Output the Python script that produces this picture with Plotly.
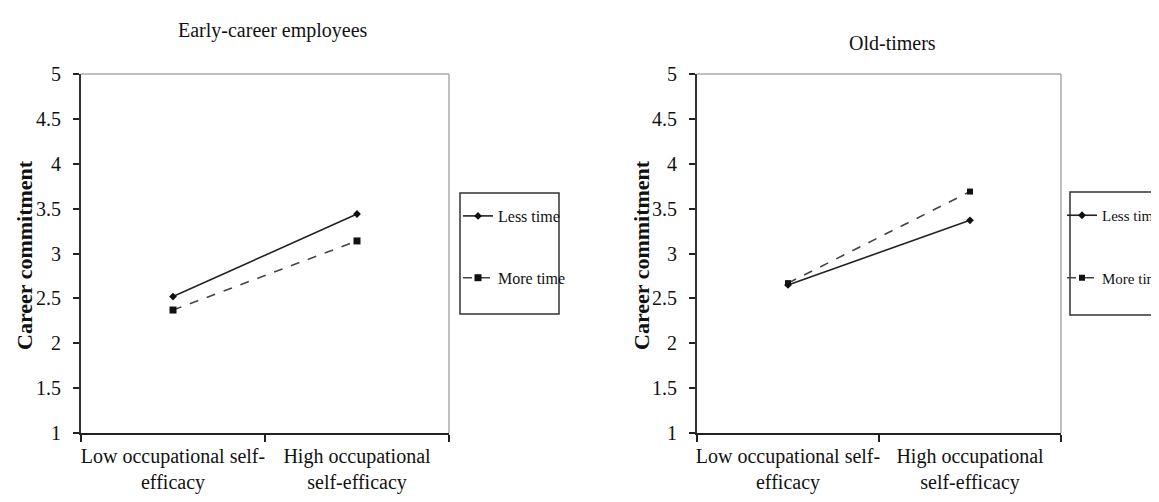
import plotly.graph_objects as go

W, H = 1159, 502

categories = ["Low occupational self-<br>efficacy", "High occupational<br>self-efficacy"]
early_less = [2.52, 3.44]
early_more = [2.37, 3.14]
old_less = [2.65, 3.37]
old_more = [2.67, 3.69]
y_ticks = [1, 1.5, 2, 2.5, 3, 3.5, 4, 4.5, 5]
y_ticktext = ["1", "1.5", "2", "2.5", "3", "3.5", "4", "4.5", "5"]
series_names = ["Less time", "More time"]
panel_titles = ["Early-career employees", "Old-timers"]
y_title = "Career commitment"

FONT = "Liberation Serif, Times New Roman, serif"

def px(x):
    return x / W

def py(y):
    return 1 - y / H

fig = go.Figure()

# left panel
fig.add_trace(go.Scatter(x=categories, y=early_less, name=series_names[0], mode="lines+markers",
                         line=dict(color="#222", width=1.6), marker=dict(symbol="diamond", size=6, color="#111"),
                         xaxis="x", yaxis="y", legend="legend", legendgroup="a"))
fig.add_trace(go.Scatter(x=categories, y=early_more, name=series_names[1], mode="lines+markers",
                         line=dict(color="#444", width=1.6, dash="dash"), marker=dict(symbol="square", size=7, color="#111"),
                         xaxis="x", yaxis="y", legend="legend", legendgroup="b"))
# right panel
fig.add_trace(go.Scatter(x=categories, y=old_less, name=series_names[0], mode="lines+markers",
                         line=dict(color="#222", width=1.6), marker=dict(symbol="diamond", size=6, color="#111"),
                         xaxis="x2", yaxis="y2", legend="legend2", legendgroup="c"))
fig.add_trace(go.Scatter(x=categories, y=old_more, name=series_names[1], mode="lines+markers",
                         line=dict(color="#444", width=1.6, dash="dash"), marker=dict(symbol="square", size=6, color="#111"),
                         xaxis="x2", yaxis="y2", legend="legend2", legendgroup="d"))

ydom = [py(425), py(66)]
xax = dict(type="category", range=[-0.5, 1.5], tickson="boundaries", ticks="outside", ticklen=7,
           tickcolor="#222", tickwidth=1.5, showline=True, linecolor="#222", linewidth=1.8,
           showgrid=False, zeroline=False, tickfont=dict(family=FONT, size=20, color="#111"),
           tickangle=0, ticklabelstandoff=4, automargin=False, fixedrange=True)
yax = dict(range=[1, 5], tickvals=y_ticks, ticktext=y_ticktext, ticks="outside", ticklen=6,
           tickcolor="#222", tickwidth=1.5, showline=True, linecolor="#333", linewidth=1.8,
           showgrid=False, zeroline=False, tickfont=dict(family=FONT, size=20, color="#111"),
           ticklabelstandoff=8, automargin=False, fixedrange=True)

fig.update_layout(
    width=W, height=H,
    margin=dict(l=0, r=0, t=0, b=0, autoexpand=False),
    paper_bgcolor="white", plot_bgcolor="white",
    xaxis=dict(xax, domain=[px(73), px(441)], anchor="y"),
    yaxis=dict(yax, domain=ydom, anchor="x"),
    xaxis2=dict(xax, domain=[px(689), px(1053)], anchor="y2"),
    yaxis2=dict(yax, domain=ydom, anchor="x2"),
    legend=dict(x=px(450), y=py(191), xanchor="left", yanchor="top", bgcolor="rgba(0,0,0,0)",
                borderwidth=0, font=dict(family=FONT, size=16, color="#111"), tracegroupgap=38, itemwidth=30),
    legend2=dict(x=px(1054), y=py(191), xanchor="left", yanchor="top", bgcolor="rgba(0,0,0,0)",
                 borderwidth=0, font=dict(family=FONT, size=15, color="#111"), tracegroupgap=40, itemwidth=30),
    showlegend=True,
)

shapes = []
for xr, yr in [("x domain", "y domain"), ("x2 domain", "y2 domain")]:
    # light gray top and right frame lines
    shapes.append(dict(type="line", xref=xr, yref=yr, x0=0, x1=1, y0=1, y1=1,
                       line=dict(color="#aaa", width=1.5)))
    shapes.append(dict(type="line", xref=xr, yref=yr, x0=1, x1=1, y0=0, y1=1,
                       line=dict(color="#aaa", width=1.5)))
# legend boxes
shapes.append(dict(type="rect", xref="paper", yref="paper", x0=px(452), x1=px(551), y0=py(306), y1=py(185),
                   line=dict(color="#333", width=1.5), layer="below"))
shapes.append(dict(type="rect", xref="paper", yref="paper", x0=px(1062), x1=px(1175), y0=py(307), y1=py(184),
                   line=dict(color="#333", width=1.5), layer="below"))
fig.update_layout(shapes=shapes)

annotations = [
    dict(text=panel_titles[0], x=px(265), y=py(23), xref="paper", yref="paper", showarrow=False,
         font=dict(family=FONT, size=20, color="#111"), xanchor="center", yanchor="middle"),
    dict(text=panel_titles[1], x=px(884), y=py(35), xref="paper", yref="paper", showarrow=False,
         font=dict(family=FONT, size=20, color="#111"), xanchor="center", yanchor="middle"),
    dict(text="<b>" + y_title + "</b>", x=px(16), y=py(247), xref="paper", yref="paper", showarrow=False,
         textangle=-90, font=dict(family=FONT, size=22, color="#111"), xanchor="center", yanchor="middle"),
    dict(text="<b>" + y_title + "</b>", x=px(633), y=py(247), xref="paper", yref="paper", showarrow=False,
         textangle=-90, font=dict(family=FONT, size=22, color="#111"), xanchor="center", yanchor="middle"),
]
fig.update_layout(annotations=annotations)

fig.write_html("out.html")
